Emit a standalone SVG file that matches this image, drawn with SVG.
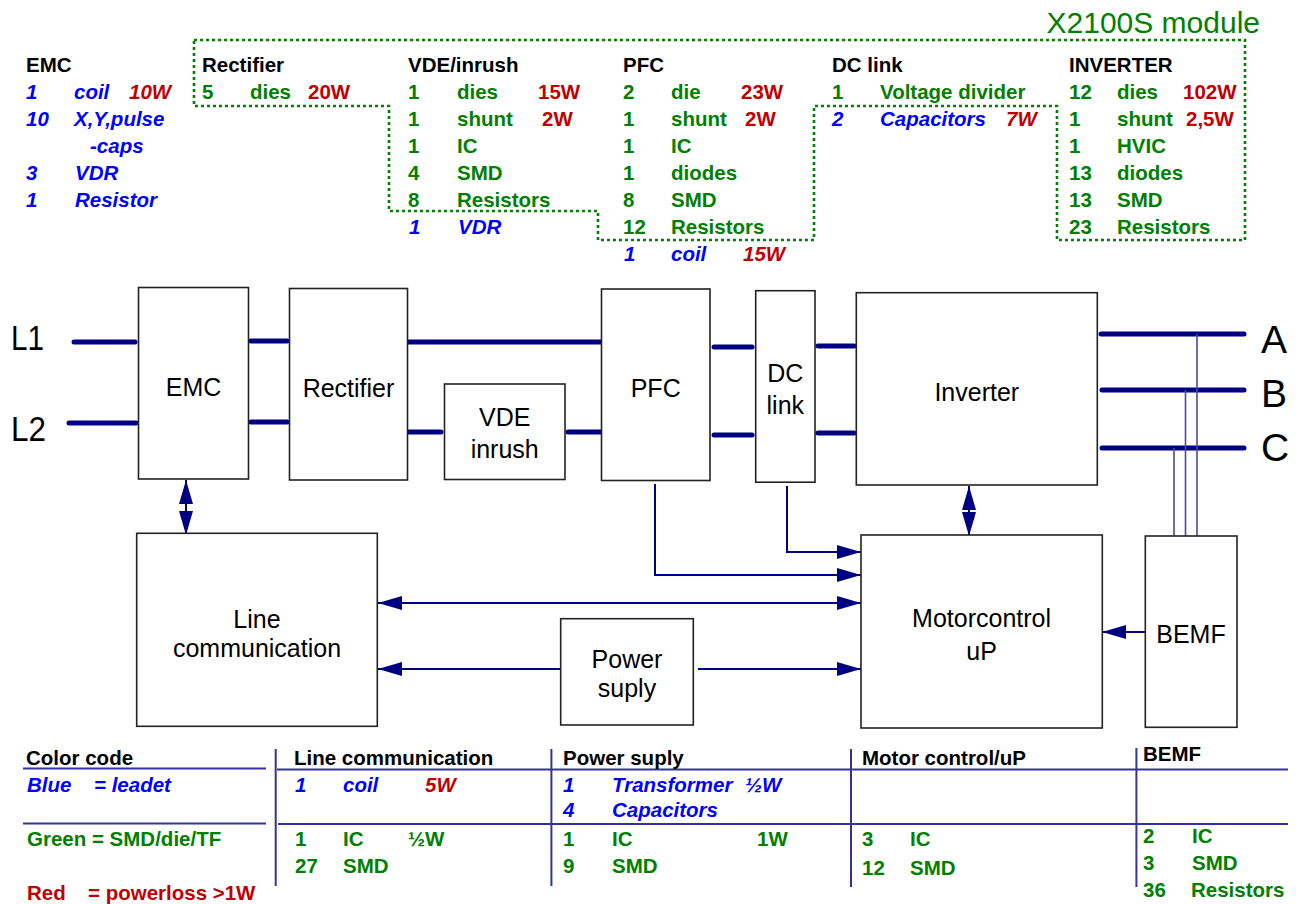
<svg xmlns="http://www.w3.org/2000/svg" width="1298" height="904" viewBox="0 0 1298 904">
<style>
.box{fill:#fff;stroke:#222;stroke-width:1.6}
.bt{font-family:"Liberation Sans",Arial,sans-serif;font-size:25px;text-anchor:middle;fill:#000}
.big{font-family:"Liberation Sans",Arial,sans-serif;fill:#000}
.pw{stroke:#000080;stroke-width:5;stroke-linecap:round;fill:none}
.sig{stroke:#000080;stroke-width:2;fill:none}
.tap{stroke:#4848a8;stroke-width:1.6;fill:none}
.t{font-family:"Liberation Sans",Arial,sans-serif;font-size:20.5px;font-weight:bold}
.k{fill:#000}.g{fill:#008000}.b{fill:#0000ff;font-style:italic}.r{fill:#c00000}.ri{fill:#c00000;font-style:italic}
.tl{stroke:#333399;stroke-width:2}
.dot{fill:none;stroke:#008000;stroke-width:2.6;stroke-dasharray:3 3}
</style>
<defs>
<marker id="ah" markerUnits="userSpaceOnUse" markerWidth="24" markerHeight="14" refX="24" refY="7" orient="auto-start-reverse" viewBox="0 0 24 14"><path d="M0,0 L24,7 L0,14 Z" fill="#000080"/></marker>
</defs>

<!-- module outline -->
<g id="module">
<path class="dot" d="M194,40 H1245 V240 H1057 V106 H814 V240 H598 V211 H389 V106 H194 Z"/>
<text x="1260" y="33" text-anchor="end" font-family="Liberation Sans, Arial, sans-serif" font-size="30" fill="#008000">X2100S module</text>
</g>

<!-- component lists -->
<g id="list-emc" class="t">
<text x="26" y="72" class="k">EMC</text>
<text x="26" y="99" class="b">1</text><text x="74" y="99" class="b">coil</text><text x="129" y="99" class="ri">10W</text>
<text x="26" y="126" class="b">10</text><text x="74" y="126" class="b">X,Y,pulse</text>
<text x="90" y="153" class="b">-caps</text>
<text x="26" y="180" class="b">3</text><text x="75" y="180" class="b">VDR</text>
<text x="26" y="207" class="b">1</text><text x="75" y="207" class="b">Resistor</text>
</g>
<g id="list-rectifier" class="t">
<text x="202" y="72" class="k">Rectifier</text>
<text x="202" y="99" class="g">5</text><text x="250" y="99" class="g">dies</text><text x="308" y="99" class="r">20W</text>
</g>
<g id="list-vde" class="t">
<text x="408" y="72" class="k">VDE/inrush</text>
<text x="408" y="99" class="g">1</text><text x="457" y="99" class="g">dies</text><text x="538" y="99" class="r">15W</text>
<text x="408" y="126" class="g">1</text><text x="457" y="126" class="g">shunt</text><text x="542" y="126" class="r">2W</text>
<text x="408" y="153" class="g">1</text><text x="457" y="153" class="g">IC</text>
<text x="408" y="180" class="g">4</text><text x="457" y="180" class="g">SMD</text>
<text x="408" y="207" class="g">8</text><text x="457" y="207" class="g">Resistors</text>
<text x="409" y="234" class="b">1</text><text x="458" y="234" class="b">VDR</text>
</g>
<g id="list-pfc" class="t">
<text x="623" y="72" class="k">PFC</text>
<text x="623" y="99" class="g">2</text><text x="671" y="99" class="g">die</text><text x="741" y="99" class="r">23W</text>
<text x="623" y="126" class="g">1</text><text x="671" y="126" class="g">shunt</text><text x="745" y="126" class="r">2W</text>
<text x="623" y="153" class="g">1</text><text x="671" y="153" class="g">IC</text>
<text x="623" y="180" class="g">1</text><text x="671" y="180" class="g">diodes</text>
<text x="623" y="207" class="g">8</text><text x="671" y="207" class="g">SMD</text>
<text x="623" y="234" class="g">12</text><text x="671" y="234" class="g">Resistors</text>
<text x="624" y="261" class="b">1</text><text x="671" y="261" class="b">coil</text><text x="743" y="261" class="ri">15W</text>
</g>
<g id="list-dclink" class="t">
<text x="832" y="72" class="k">DC link</text>
<text x="832" y="99" class="g">1</text><text x="880" y="99" class="g">Voltage divider</text>
<text x="832" y="126" class="b">2</text><text x="880" y="126" class="b">Capacitors</text><text x="1006" y="126" class="ri">7W</text>
</g>
<g id="list-inverter" class="t">
<text x="1069" y="72" class="k">INVERTER</text>
<text x="1069" y="99" class="g">12</text><text x="1117" y="99" class="g">dies</text><text x="1183" y="99" class="r">102W</text>
<text x="1069" y="126" class="g">1</text><text x="1117" y="126" class="g">shunt</text><text x="1186" y="126" class="r">2,5W</text>
<text x="1069" y="153" class="g">1</text><text x="1117" y="153" class="g">HVIC</text>
<text x="1069" y="180" class="g">13</text><text x="1117" y="180" class="g">diodes</text>
<text x="1069" y="207" class="g">13</text><text x="1117" y="207" class="g">SMD</text>
<text x="1069" y="234" class="g">23</text><text x="1117" y="234" class="g">Resistors</text>
</g>

<!-- connectors -->
<g id="connectors">
<line class="pw" x1="74" y1="342" x2="135" y2="342"/>
<line class="pw" x1="69" y1="423" x2="136" y2="423"/>
<line class="pw" x1="251" y1="341" x2="287" y2="341"/>
<line class="pw" x1="251" y1="422" x2="287" y2="422"/>
<line class="pw" x1="407" y1="342" x2="602" y2="342"/>
<line class="pw" x1="407" y1="432" x2="441" y2="432"/>
<line class="pw" x1="568" y1="432" x2="603" y2="432"/>
<line class="pw" x1="714" y1="347" x2="752" y2="347"/>
<line class="pw" x1="714" y1="435" x2="752" y2="435"/>
<line class="pw" x1="818" y1="346" x2="854" y2="346"/>
<line class="pw" x1="818" y1="433" x2="854" y2="433"/>
<line class="pw" x1="1101" y1="334" x2="1244" y2="334"/>
<line class="pw" x1="1102" y1="390" x2="1244" y2="390"/>
<line class="pw" x1="1102" y1="448" x2="1244" y2="448"/>
<line class="tap" x1="1197" y1="334" x2="1197" y2="536"/>
<line class="tap" x1="1185.5" y1="390" x2="1185.5" y2="536"/>
<line class="tap" x1="1174" y1="448" x2="1174" y2="536"/>
<line class="sig" x1="186" y1="480" x2="186" y2="535" marker-start="url(#ah)" marker-end="url(#ah)"/>
<line class="sig" x1="969" y1="486" x2="969" y2="536" marker-start="url(#ah)" marker-end="url(#ah)"/>
<path class="sig" d="M655,484 V575 H861" marker-end="url(#ah)"/>
<path class="sig" d="M787,486 V552 H861" marker-end="url(#ah)"/>
<line class="sig" x1="378" y1="603" x2="861" y2="603" marker-start="url(#ah)" marker-end="url(#ah)"/>
<line class="sig" x1="561" y1="669" x2="378" y2="669" marker-end="url(#ah)"/>
<line class="sig" x1="698" y1="669" x2="861" y2="669" marker-end="url(#ah)"/>
<line class="sig" x1="1145" y1="632" x2="1102" y2="632" marker-end="url(#ah)"/>
</g>

<!-- terminal labels -->
<g id="terminals" class="big">
<text x="11" y="350" font-size="35" textLength="33" lengthAdjust="spacingAndGlyphs">L1</text>
<text x="11" y="441" font-size="35" textLength="35" lengthAdjust="spacingAndGlyphs">L2</text>
<text x="1261" y="353" font-size="39">A</text>
<text x="1261" y="407" font-size="39">B</text>
<text x="1261" y="461" font-size="39">C</text>
</g>

<!-- blocks -->
<g id="emc"><rect class="box" x="138.5" y="287.5" width="110" height="191.5"/><text class="bt" x="193.5" y="396">EMC</text></g>
<g id="rectifier"><rect class="box" x="289.5" y="288.5" width="118" height="191.5"/><text class="bt" x="348.5" y="396.5">Rectifier</text></g>
<g id="vde"><rect class="box" x="444.5" y="384" width="120.5" height="95.5"/><text class="bt" x="504.7" y="426">VDE</text><text class="bt" x="504.7" y="458">inrush</text></g>
<g id="pfc"><rect class="box" x="601.5" y="289" width="108.5" height="191.5"/><text class="bt" x="655.7" y="396.5">PFC</text></g>
<g id="dclink"><rect class="box" x="755.7" y="290.7" width="59.3" height="191.5"/><text class="bt" x="785.3" y="381.5">DC</text><text class="bt" x="785.3" y="414">link</text></g>
<g id="inverter"><rect class="box" x="856.3" y="292.7" width="241" height="192.3"/><text class="bt" x="976.8" y="400.5">Inverter</text></g>
<g id="linecomm"><rect class="box" x="136.7" y="533.3" width="240.6" height="193"/><text class="bt" x="257" y="627.5">Line</text><text class="bt" x="257" y="656.5">communication</text></g>
<g id="power"><rect class="box" x="560.7" y="618.7" width="132.6" height="106.3"/><text class="bt" x="627" y="667.5">Power</text><text class="bt" x="627" y="696.5">suply</text></g>
<g id="motor"><rect class="box" x="861" y="535" width="241.3" height="193"/><text class="bt" x="981.6" y="626.5">Motorcontrol</text><text class="bt" x="981.6" y="660">uP</text></g>
<g id="bemf"><rect class="box" x="1145.3" y="536" width="91.7" height="191.3"/><text class="bt" x="1191" y="643.3">BEMF</text></g>

<!-- bottom table -->
<g id="table">
<line class="tl" x1="23" y1="768.5" x2="266" y2="768.5"/>
<line class="tl" x1="23" y1="823.5" x2="266" y2="823.5"/>
<line class="tl" x1="277" y1="769.5" x2="1288" y2="769.5"/>
<line class="tl" x1="278" y1="824" x2="1288" y2="824"/>
<line class="tl" x1="275.7" y1="749" x2="275.7" y2="886"/>
<line class="tl" x1="551.4" y1="749" x2="551.4" y2="886"/>
<line class="tl" x1="851" y1="749" x2="851" y2="887"/>
<line class="tl" x1="1136.4" y1="748" x2="1136.4" y2="887"/>
</g>
<g id="table-colorcode" class="t">
<text x="26" y="765" class="k">Color code</text>
<text x="27" y="792" class="b">Blue</text><text x="94" y="792" class="b">= leadet</text>
<text x="27" y="846" class="g">Green = SMD/die/TF</text>
<text x="27" y="900" class="r">Red</text><text x="88" y="900" class="r">= powerloss &gt;1W</text>
</g>
<g id="table-linecomm" class="t">
<text x="294" y="765" class="k">Line communication</text>
<text x="295" y="792" class="b">1</text><text x="343" y="792" class="b">coil</text><text x="425" y="792" class="ri">5W</text>
<text x="295" y="846" class="g">1</text><text x="343" y="846" class="g">IC</text><text x="408" y="846" class="g">½W</text>
<text x="295" y="873" class="g">27</text><text x="343" y="873" class="g">SMD</text>
</g>
<g id="table-power" class="t">
<text x="563" y="765" class="k">Power suply</text>
<text x="563" y="792" class="b">1</text><text x="612" y="792" class="b">Transformer</text><text x="745" y="792" class="b">½W</text>
<text x="563" y="817" class="b">4</text><text x="612" y="817" class="b">Capacitors</text>
<text x="563" y="846" class="g">1</text><text x="612" y="846" class="g">IC</text><text x="757" y="846" class="g">1W</text>
<text x="563" y="873" class="g">9</text><text x="612" y="873" class="g">SMD</text>
</g>
<g id="table-motor" class="t">
<text x="862" y="765" class="k">Motor control/uP</text>
<text x="862" y="846" class="g">3</text><text x="910" y="846" class="g">IC</text>
<text x="862" y="875" class="g">12</text><text x="910" y="875" class="g">SMD</text>
</g>
<g id="table-bemf" class="t">
<text x="1143" y="761" class="k">BEMF</text>
<text x="1143" y="843" class="g">2</text><text x="1192" y="843" class="g">IC</text>
<text x="1143" y="870" class="g">3</text><text x="1192" y="870" class="g">SMD</text>
<text x="1143" y="897" class="g">36</text><text x="1191" y="897" class="g">Resistors</text>
</g>
</svg>
